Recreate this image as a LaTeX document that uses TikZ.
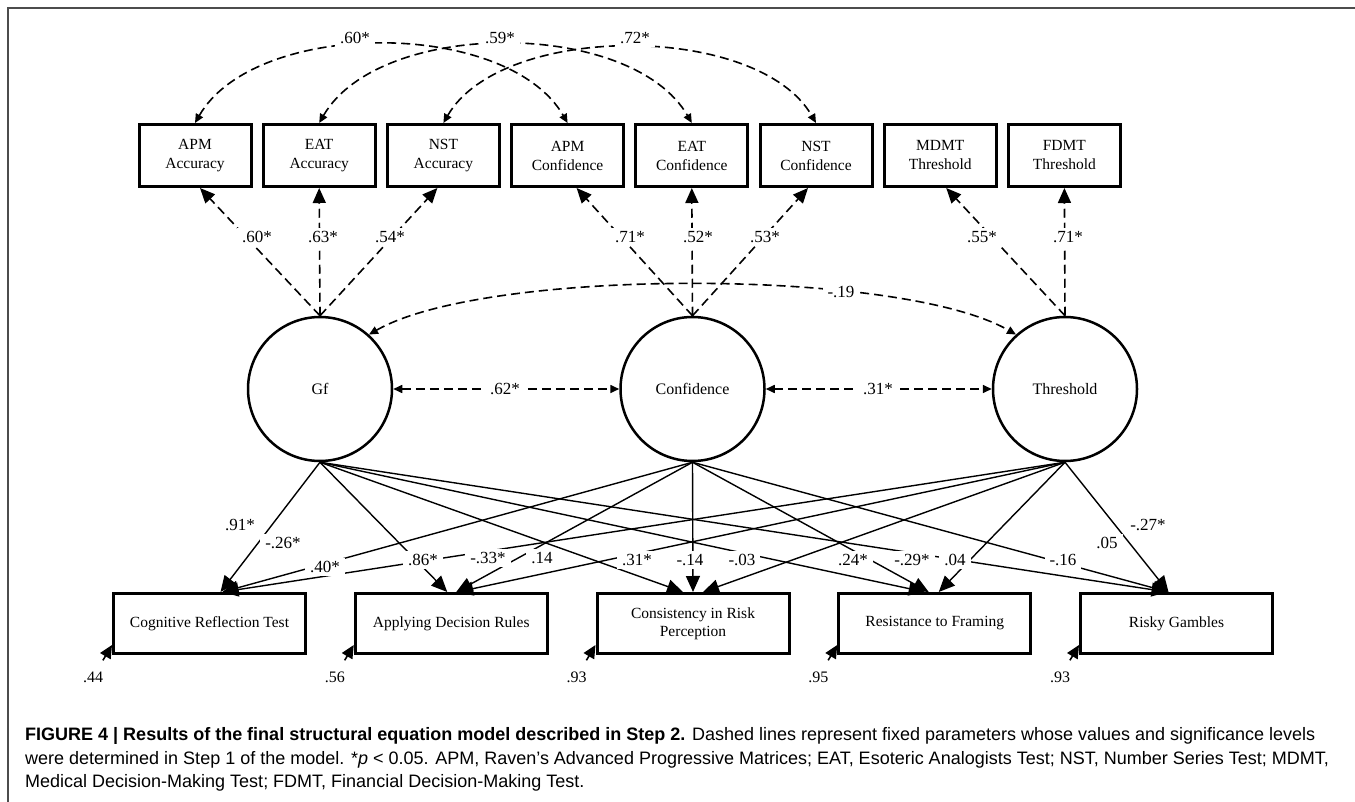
\documentclass[tikz,border=0pt]{standalone}
\usepackage{fontspec}
\setmainfont{Liberation Serif}
\newfontfamily\capfont{Liberation Sans}
\usepackage{tikz}
\usetikzlibrary{shapes,arrows.meta,positioning,calc}
\tikzset{
  obs/.style={rectangle, draw, line width=3pt, minimum width=112pt, minimum height=62pt, inner sep=0pt, align=center, font=\fontsize{15.5}{19}\selectfont},
  outc/.style={obs, minimum width=192pt, minimum height=60pt, font=\fontsize{15.5}{18}\selectfont},
  lat/.style={circle, draw, line width=2.5pt, minimum size=144pt, inner sep=0pt, font=\fontsize{16}{19}\selectfont},
  coef/.style={fill=white, inner xsep=5pt, inner ysep=3pt, font=\fontsize{17}{19}\selectfont},
  load/.style={line width=1.6pt, dash pattern=on 9pt off 5pt, -{Triangle[length=15pt,width=13pt]}},
  cov/.style={line width=1.6pt, dash pattern=on 9pt off 5pt, {Triangle[length=9pt,width=8pt]}-{Triangle[length=9pt,width=8pt]}},
  reg/.style={line width=1.4pt, -{Triangle[length=16pt,width=14pt]}},
  err/.style={line width=1.6pt, -{Triangle[length=13pt,width=12pt]}, shorten <=9pt}
}
\begin{document}
\begin{tikzpicture}[x=1pt,y=1pt]
\useasboundingbox (0,0) rectangle (1355,-802);
\draw[line width=1.3pt, black!70] (8,-802) -- (8,-8) -- (1355,-8);

\foreach \n/\txt [count=\i from 0] in {apmacc/{APM\\Accuracy}, eatacc/{EAT\\Accuracy}, nstacc/{NST\\Accuracy}, apmconf/{APM\\Confidence}, eatconf/{EAT\\Confidence}, nstconf/{NST\\Confidence}, mdmt/{MDMT\\Threshold}, fdmt/{FDMT\\Threshold}}
  \node[obs] (\n) at (195+124.2*\i,-155.5) {\txt};

\node[lat] (gf) at (320,-389) {Gf};
\node[lat, right=226pt of gf] (conf) {Confidence};
\node[lat, right=226pt of conf] (thr) {Threshold};

\foreach \n/\txt [count=\i from 0] in {crt/{Cognitive Reflection Test}, adr/{Applying Decision Rules}, crp/{Consistency in Risk\\Perception}, rtf/{Resistance to Framing}, rg/{Risky Gambles}}
  \node[outc] (\n) at (209.5+241.75*\i,-623.5) {\txt};

\draw[load] (gf.north) -- ([xshift=5pt]apmacc.south);
\draw[load] (gf.north) -- (eatacc.south);
\draw[load] (gf.north) -- ([xshift=-6pt]nstacc.south);
\draw[load] (conf.north) -- ([xshift=9pt]apmconf.south);
\draw[load] (conf.north) -- (eatconf.south);
\draw[load] (conf.north) -- ([xshift=-8pt]nstconf.south);
\draw[load] (thr.north) -- ([xshift=6pt]mdmt.south);
\draw[load] (thr.north) -- (fdmt.south);
\foreach \v/\x [count=\i] in {.60*/257, .63*/323, .54*/390, .71*/630, .52*/698, .53*/765, .55*/982, .71*/1068}
  \node[coef] (l\i) at (\x,-237) {\v};

\draw[cov] (apmacc.north) to[out=60,in=120,looseness=0.83] (apmconf.north);
\draw[cov] (eatacc.north) to[out=60,in=120,looseness=0.83] (eatconf.north);
\draw[cov] (nstacc.north) to[out=60,in=120,looseness=0.8] (nstconf.north);
\node[coef] (c1) at (355,-38) {.60*};
\node[coef] (c2) at (500,-38) {.59*};
\node[coef] (c3) at (635,-38) {.72*};

\draw[cov] (gf) -- (conf);
\draw[cov] (conf) -- (thr);
\draw[cov] (gf.48) to[out=30,in=150,looseness=0.53] (thr.132);
\node[coef] (c4) at (505,-389) {.62*};
\node[coef] (c5) at (878,-389) {.31*};
\node[coef] (c6) at (841,-292) {-.19};

\foreach \s/\t/\d in {gf/crt/11, conf/crt/13, thr/crt/13, gf/adr/-4, conf/adr/5, thr/adr/6, gf/crp/-10, conf/crp/0, thr/crp/10, gf/rtf/-10, conf/rtf/-6, thr/rtf/4, gf/rg/-9, conf/rg/-8, thr/rg/-8}
  \draw[reg] (\s.south) -- ([xshift=\d pt]\t.north);
\foreach \v/\x/\y [count=\i] in {.91*/240/525, -.26*/283/543, .40*/325/567, .86*/423/560, -.33*/488/558, .14/542/558, .31*/637/560, -.14/690/560, -.03/742/560, .24*/853/560, -.29*/912/560, .04/955/560, -.16/1063/560, .05/1107/543, -.27*/1148/525}
  \node[coef] (p\i) at (\x,-\y) {\v};

\foreach \n/\v in {crt/.44, adr/.56, crp/.93, rtf/.95, rg/.93}{
  \node[font=\fontsize{16}{18}\selectfont] (e\n) at ([shift={(-19pt,-22pt)}]\n.south west) {\v};
  \draw[err] (e\n) -- ([yshift=10pt]\n.south west);
}

\node[anchor=north west, align=left, inner sep=0pt, font=\capfont\fontsize{18}{23.5}\selectfont] (cap) at (25,-727.5)
  {\textbf{FIGURE 4 | Results of the final structural equation model described in Step 2.} Dashed lines represent fixed parameters whose values and significance levels\\
   were determined in Step 1 of the model. *\textit{p} < 0.05. APM, Raven’s Advanced Progressive Matrices; EAT, Esoteric Analogists Test; NST, Number Series Test; MDMT,\\
   Medical Decision-Making Test; FDMT, Financial Decision-Making Test.};
\end{tikzpicture}
\end{document}
